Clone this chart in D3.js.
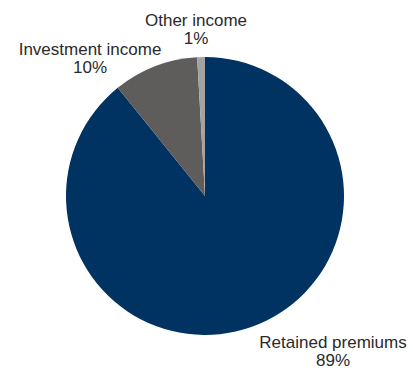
<!DOCTYPE html>
<html>
<head>
<meta charset="utf-8">
<script src="https://cdn.jsdelivr.net/npm/d3@7"></script>
<style>
  body { margin: 0; background: #fff; }
  text { font-family: "Liberation Sans", Arial, sans-serif; fill: #2a2a2a; }
</style>
</head>
<body>
<svg id="pieSvg" width="413" height="372"></svg>
<script>
const categories = ["Retained premiums", "Investment income", "Other income"];
const shares = [89.2, 9.9, 0.9];
const colours = ["#003362", "#5e5d5c", "#a3a3a3"];

const svg = d3.select("#pieSvg");
const cx = 205, cy = 196, radius = 139;

const pie = d3.pie().sort(null).value((d) => d.value);
const arc = d3.arc().innerRadius(0).outerRadius(radius);

const data = categories.map((name, i) => ({ name, value: shares[i] }));
const arcs = pie(data);

const g = svg.append("g").attr("transform", `translate(${cx},${cy})`);

g.selectAll("path")
  .data(arcs)
  .enter()
  .append("path")
  .attr("d", arc)
  .attr("fill", (d, i) => colours[i]);

// label spots, relative to the pie centre (first line baseline)
const labelPos = [[128, 152], [-115, -141], [-9, -170]];

const label = g.selectAll("text.lbl")
  .data(arcs)
  .enter()
  .append("text")
  .attr("class", "lbl")
  .attr("text-anchor", "middle")
  .attr("font-size", 17)
  .attr("transform", (d, i) => `translate(${labelPos[i][0]},${labelPos[i][1]})`);

label.append("tspan")
  .attr("x", 0)
  .attr("dy", 0)
  .text((d) => d.data.name);

label.append("tspan")
  .attr("x", 0)
  .attr("dy", 18)
  .text((d) => `${Math.round(d.data.value)}%`);
</script>
</body>
</html>
